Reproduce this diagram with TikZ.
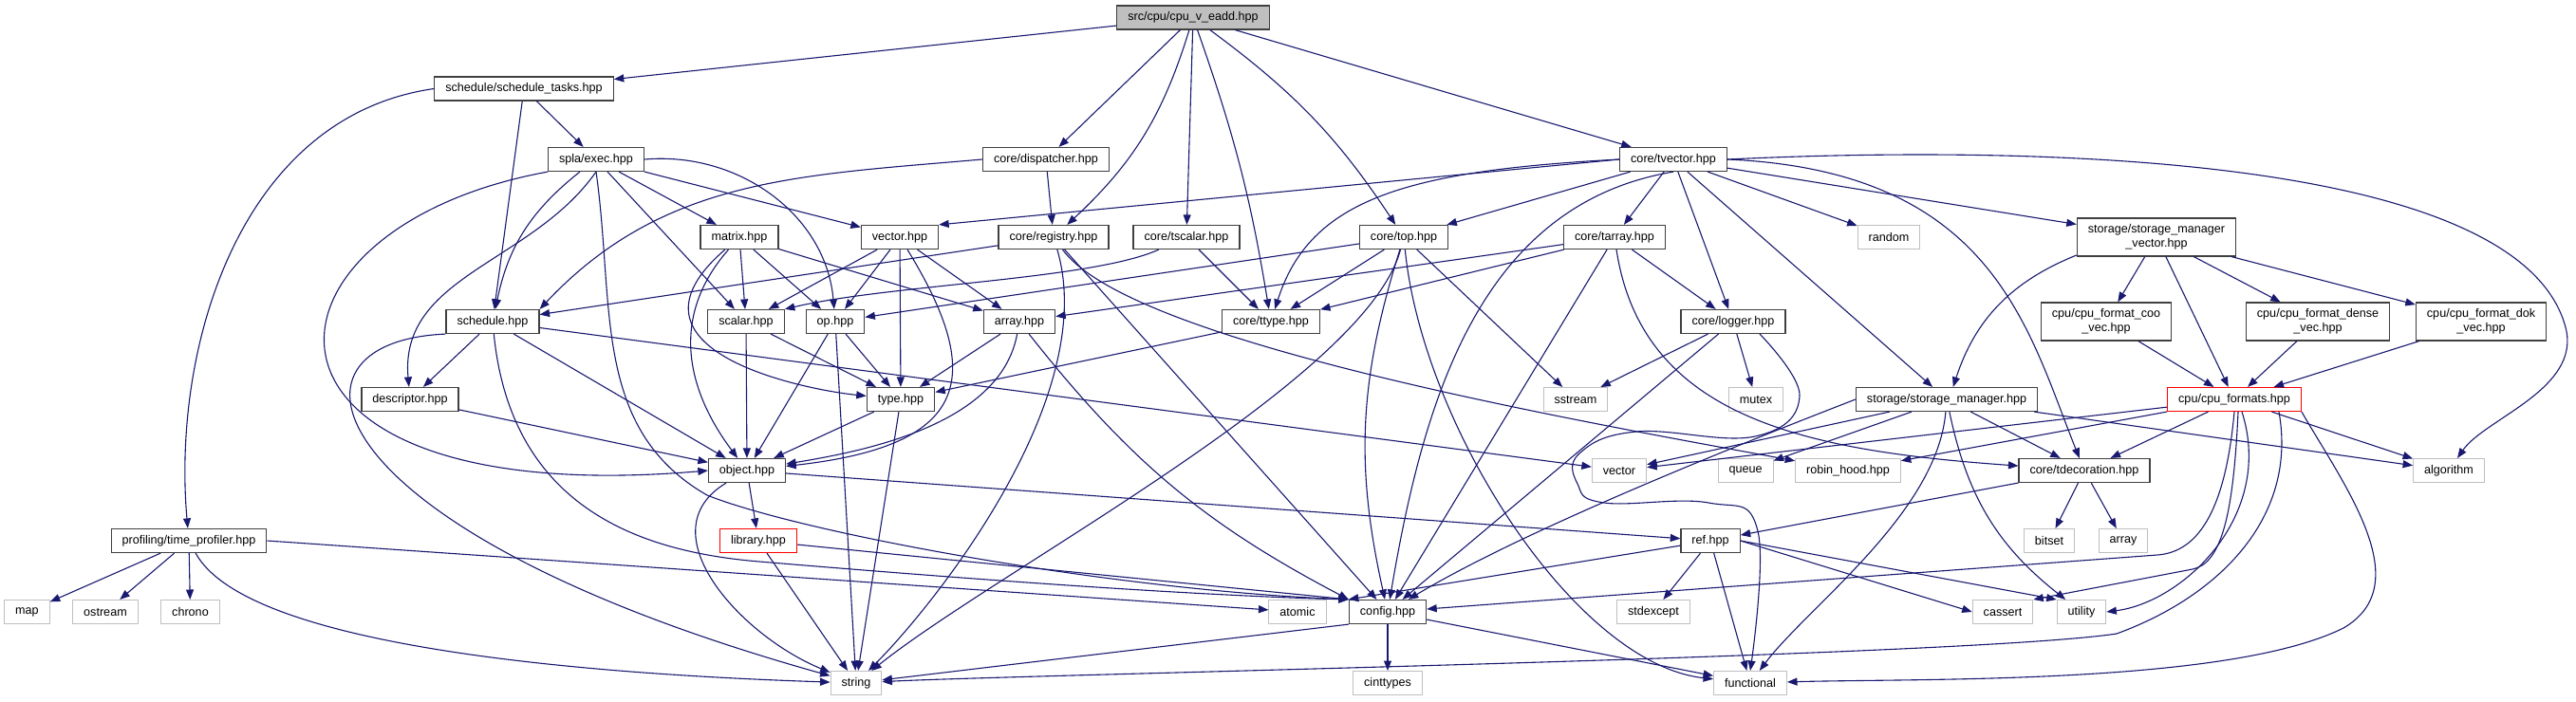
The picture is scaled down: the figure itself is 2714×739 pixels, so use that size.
\documentclass[tikz,border=0pt]{standalone}
\usepackage{fontspec}
\setmainfont{Liberation Sans}
\usetikzlibrary{arrows.meta}
\definecolor{edgeblue}{HTML}{191970}

\begin{document}
\begin{tikzpicture}[
    x=1pt, y=1pt,
    % Node styles
    hdr/.style={
        rectangle,
        draw=black!75,
        line width=1.2pt,
        fill=white,
        minimum height=25pt,
        inner xsep=11.5pt,
        inner ysep=0pt,
        align=center,
        font=\fontsize{12.6}{15}\selectfont
    },
    rootfile/.style={hdr, fill=black!25},
    truncfile/.style={hdr, draw=red},
    sysfile/.style={hdr, draw=black!25, line width=1pt},
    twoline/.style={minimum height=40pt},
    dep/.style={
        -{Triangle[length=10.5pt,width=8pt]},
        line width=1.1pt,
        color=edgeblue
    }
]

\path[use as bounding box, fill=white] (0,0) rectangle (2714,-739);

% ===== Row 0 =====
\node[rootfile] (eadd) at (1257,-18.5) {src/cpu/cpu\_v\_eadd.hpp};

% ===== Row 1 =====
\node[hdr] (tasks) at (552,-93.5) {schedule/schedule\_tasks.hpp};

% ===== Row 2 =====
\node[hdr] (exec) at (628,-168) {spla/exec.hpp};
\node[hdr] (disp) at (1102,-168) {core/dispatcher.hpp};
\node[hdr] (tvec) at (1763,-168) {core/tvector.hpp};

% ===== Row 3 =====
\node[hdr] (matrix) at (779,-250) {matrix.hpp};
\node[hdr] (vec) at (948,-250) {vector.hpp};
\node[hdr] (reg) at (1110,-250) {core/registry.hpp};
\node[hdr] (tscal) at (1250,-250) {core/tscalar.hpp};
\node[hdr] (top) at (1479,-250) {core/top.hpp};
\node[hdr] (tarr) at (1701,-250) {core/tarray.hpp};
\node[sysfile] (rnd) at (1990,-250) {random};
\node[hdr, twoline] (smvec) at (2272,-250) {storage/storage\_manager\\\_vector.hpp};

% ===== Row 4 =====
\node[hdr] (sched) at (519,-339) {schedule.hpp};
\node[hdr] (scal) at (786,-339) {scalar.hpp};
\node[hdr] (op) at (880,-339) {op.hpp};
\node[hdr] (arr) at (1074,-339) {array.hpp};
\node[hdr] (ttype) at (1339,-339) {core/ttype.hpp};
\node[hdr] (logger) at (1826,-339) {core/logger.hpp};
\node[hdr, twoline] (coo) at (2219,-339) {cpu/cpu\_format\_coo\\\_vec.hpp};
\node[hdr, twoline] (dense) at (2442,-339) {cpu/cpu\_format\_dense\\\_vec.hpp};
\node[hdr, twoline] (dok) at (2614,-339) {cpu/cpu\_format\_dok\\\_vec.hpp};

% ===== Row 5 =====
\node[hdr] (desc) at (432,-421) {descriptor.hpp};
\node[hdr] (type) at (949,-421) {type.hpp};
\node[sysfile] (sstream) at (1660,-421) {sstream};
\node[sysfile] (mutex) at (1850,-421) {mutex};
\node[hdr] (stmgr) at (2051,-421) {storage/storage\_manager.hpp};
\node[truncfile] (cpufmt) at (2354,-421) {cpu/cpu\_formats.hpp};

% ===== Row 6 =====
\node[hdr] (obj) at (787,-496) {object.hpp};
\node[sysfile] (stdvec) at (1706,-496) {vector};
\node[sysfile] (queue) at (1839,-496) {queue};
\node[sysfile] (robin) at (1947,-496) {robin\_hood.hpp};
\node[hdr] (tdec) at (2196,-496) {core/tdecoration.hpp};
\node[sysfile] (algo) at (2580,-496) {algorithm};

% ===== Row 7 =====
\node[hdr] (prof) at (199,-570) {profiling/time\_profiler.hpp};
\node[truncfile] (lib) at (799,-570) {library.hpp};
\node[hdr] (ref) at (1802,-570) {ref.hpp};
\node[sysfile] (bitset) at (2159,-570) {bitset};
\node[sysfile] (stdarr) at (2237,-570) {array};

% ===== Row 8 =====
\node[sysfile] (map) at (28.5,-645) {map};
\node[sysfile] (ostream) at (111,-645) {ostream};
\node[sysfile] (chrono) at (200.5,-645) {chrono};
\node[sysfile] (atomic) at (1367,-645) {atomic};
\node[hdr] (config) at (1462,-645) {config.hpp};
\node[sysfile] (stdexc) at (1742,-645) {stdexcept};
\node[sysfile] (cassert) at (2110,-645) {cassert};
\node[sysfile] (utility) at (2193,-645) {utility};

% ===== Row 9 =====
\node[sysfile] (str) at (902,-720) {string};
\node[sysfile] (cinttypes) at (1462,-720) {cinttypes};
\node[sysfile] (functional) at (1844,-720) {functional};

% ===== Root includes =====
\draw[dep] (eadd) -- (tasks);
\draw[dep] (eadd) -- (disp);
\draw[dep] (eadd) to[bend left=15] (reg);
\draw[dep] (eadd) -- (tscal);
\draw[dep] (eadd) to[bend left=5] (ttype);
\draw[dep] (eadd) to[bend left=10] (top);
\draw[dep] (eadd) -- (tvec);

% ===== Schedule tasks and exec =====
\draw[dep] (tasks) -- (exec);
\draw[dep] (tasks) -- (sched);
\draw[dep] (tasks.west) .. controls +(-204,-29) and +(-18,205) .. (prof);

\draw[dep] (exec) to[bend right=20] (sched);
\draw[dep] (exec.south) to[out=235, in=95] (desc);
\draw[dep] (exec.south west) .. controls +(-328,-60) and +(-516,-44) .. (obj.west);
\draw[dep] (exec) -- (matrix);
\draw[dep] (exec) -- (vec);
\draw[dep] (exec) -- (scal);
\draw[dep] (exec.east) to[out=5, in=95] (op);
\draw[dep] (exec.south) .. controls +(20,-140) and +(-122,70) .. (745,-522)
    .. controls +(100,-40) and +(-250,10) .. (config.north west);

% ===== Core headers =====
\draw[dep] (disp.west) .. controls +(-195,-17) and +(130,138) .. (sched.north east);
\draw[dep] (disp) -- (reg);

\draw[dep] (tvec.west) -- (vec.north east);
\draw[dep] (tvec.west) .. controls +(-225,-12) and +(41,129) .. (ttype);
\draw[dep] (tvec) -- (top);
\draw[dep] (tvec) -- (tarr);
\draw[dep] (tvec.south) .. controls +(-203,-34) and +(38,225) .. (config);
\draw[dep] (tvec) -- (logger);
\draw[dep] (tvec) -- (stmgr);
\draw[dep] (tvec) -- (rnd);
\draw[dep] (tvec) -- (smvec);
\draw[dep] (tvec.east) .. controls +(208,10) and +(-54,202) .. (2703,-345)
    .. controls +(17,-65) and +(38,55) .. (algo);
\draw[dep] (tvec.east) .. controls +(280,-12) and +(-60,150) .. (tdec);

\draw[dep] (reg) -- (sched);
\draw[dep] (reg) .. controls +(50,-170) and +(80,80) .. (str);
\draw[dep] (reg) -- (config);
\draw[dep] (reg) .. controls +(80,-110) and +(-300,55) .. (robin);

\draw[dep] (tscal) .. controls +(-100,-45) and +(110,26) .. (scal.north east);
\draw[dep] (tscal) -- (ttype);

\draw[dep] (top) -- (op);
\draw[dep] (top) -- (ttype);
\draw[dep] (top) .. controls +(-40,-150) and +(150,120) .. (str);
\draw[dep] (top) to[bend right=15] (config);
\draw[dep] (top) .. controls +(20,-200) and +(-184,20) .. (functional);
\draw[dep] (top) -- (sstream);

\draw[dep] (tarr) -- (arr);
\draw[dep] (tarr) -- (ttype);
\draw[dep] (tarr) -- (logger);
\draw[dep] (tarr) -- (config);
\draw[dep] (tarr) .. controls +(29,-190) and +(-296,21) .. (tdec);

\draw[dep] (logger) -- (sstream);
\draw[dep] (logger) -- (mutex);
\draw[dep] (logger) -- (config);
\draw[dep] plot[smooth, tension=0.7] coordinates {(logger.-25) (1896,-417) (1849,-460)
    (1724,-455) (1664,-478) (1662,-510) (1690,-530) (1800,-530) (1852,-560) (functional.north)};

% ===== Public headers =====
\draw[dep] (matrix) -- (scal);
\draw[dep] (matrix) -- (op);
\draw[dep] (matrix) -- (arr);
\draw[dep] (matrix) .. controls +(-139,-120) and +(-100,10) .. (type);
\draw[dep] (matrix) .. controls +(-79,-90) and +(-57,76) .. (obj);

\draw[dep] (vec) -- (scal);
\draw[dep] (vec) -- (op);
\draw[dep] (vec) -- (arr);
\draw[dep] (vec) -- (type);
\draw[dep] (vec) .. controls +(92,-150) and +(233,26) .. (obj);

\draw[dep] (sched) -- (desc);
\draw[dep] (sched) -- (obj);
\draw[dep] (sched) .. controls +(20,-200) and +(-120,10) .. (800,-592)
    .. controls +(120,-10) and +(-200,5) .. (config.north west);
\draw[dep] (sched) -- (stdvec);
\draw[dep] (sched.south west) .. controls +(-190,-8) and +(-572,160) .. (str);
\draw[dep] (desc) -- (obj);

\draw[dep] (scal) -- (obj);
\draw[dep] (scal) -- (type);
\draw[dep] (op) -- (obj);
\draw[dep] (op) -- (type);
\draw[dep] (op) -- (str);
\draw[dep] (arr) .. controls +(-20,-110) and +(120,20) .. (obj);
\draw[dep] (arr) -- (type);
\draw[dep] (arr) to[bend right=12] (config.north west);
\draw[dep] (ttype) -- (type);

\draw[dep] (type) -- (obj);
\draw[dep] (type) -- (str);
\draw[dep] (obj) -- (lib);
\draw[dep] (obj) .. controls +(-107,-64) and +(-122,50) .. (str);
\draw[dep] (obj) -- (ref);
\draw[dep] (lib) -- (str);
\draw[dep] (lib) -- (config.north west);

% ===== Storage =====
\draw[dep] (smvec) to[bend right=25] (stmgr);
\draw[dep] (smvec) -- (coo);
\draw[dep] (smvec) -- (dense);
\draw[dep] (smvec) -- (dok);
\draw[dep] (smvec) -- (cpufmt);
\draw[dep] (coo) -- (cpufmt);
\draw[dep] (dense) -- (cpufmt);
\draw[dep] (dok) -- (cpufmt);

\draw[dep] (stmgr) -- (stdvec);
\draw[dep] (stmgr) -- (queue);
\draw[dep] (stmgr.west) .. controls +(-103,-40) and +(150,90) .. (config);
\draw[dep] (stmgr) -- (tdec);
\draw[dep] (stmgr) .. controls +(-10,-120) and +(60,80) .. (functional);
\draw[dep] (stmgr) to[bend right=20] (utility);
\draw[dep] (stmgr) -- (algo);

\draw[dep] (cpufmt) -- (stdvec);
\draw[dep] (cpufmt) -- (robin);
\draw[dep] (cpufmt) -- (tdec);
\draw[dep] (cpufmt) -- (algo);
\draw[dep] (cpufmt.south) .. controls +(-10,-110) and +(40,3) .. (2273,-585) -- (config);
\draw[dep] ([xshift=4pt]cpufmt.south) .. controls +(-5,-110) and +(30,6) .. (2310,-600) -- (cassert.north east);
\draw[dep] ([xshift=8pt]cpufmt.south) .. controls +(35,-110) and +(80,10) .. (utility.east);
\draw[dep] ([xshift=47pt]cpufmt.south) .. controls +(20,-112) and +(107,39) .. (2230,-668)
    .. controls +(-158,-24) and +(179,9) .. (str);
\draw[dep] (cpufmt.south east) .. controls +(45,-78) and +(79,46) .. (2469,-662)
    .. controls +(-120,-60) and +(178,5) .. (functional);

% ===== Low-level headers =====
\draw[dep] (tdec) -- (bitset);
\draw[dep] (tdec) -- (stdarr);
\draw[dep] (tdec) -- (ref);

\draw[dep] (ref) -- (config.north west);
\draw[dep] (ref) -- (stdexc);
\draw[dep] (ref) -- (functional);
\draw[dep] (ref.east) -- (cassert.west);
\draw[dep] (ref.east) -- (utility.north west);

\draw[dep] (config) -- (cinttypes);
\draw[dep] (config.south west) -- (str);
\draw[dep] (config) -- (functional);

% ===== Profiler =====
\draw[dep] (prof) -- (map);
\draw[dep] (prof) -- (ostream);
\draw[dep] (prof) -- (chrono);
\draw[dep] (prof) .. controls +(60,-110) and +(-300,10) .. (str);
\draw[dep] (prof.east) -- (atomic);

\end{tikzpicture}
\end{document}
